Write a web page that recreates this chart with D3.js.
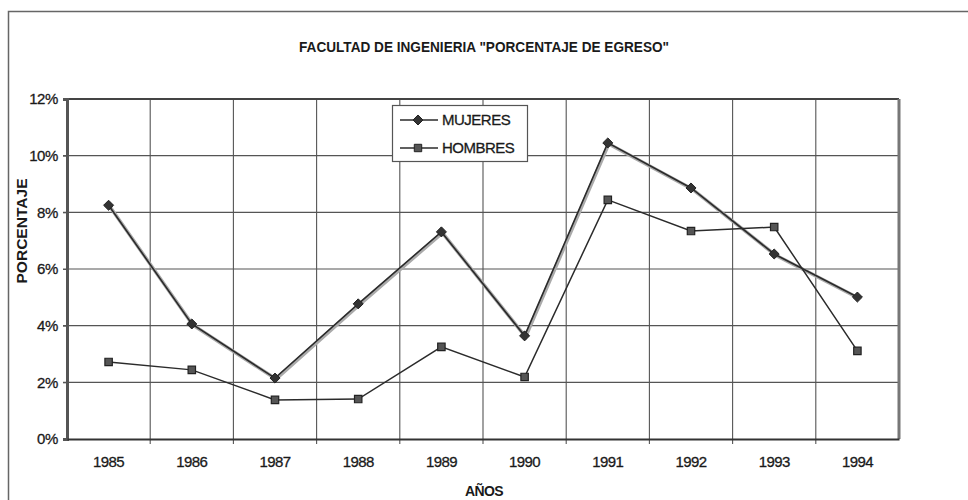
<!DOCTYPE html>
<html>
<head>
<meta charset="utf-8">
<script src="https://cdn.jsdelivr.net/npm/d3@7"></script>
<style>
  body { margin: 0; background: #fff; }
  svg { display: block; font-family: "Liberation Sans", Arial, sans-serif; }
</style>
</head>
<body>
<div id="chart"></div>
<script>
// values (percent)
const years = ["1985", "1986", "1987", "1988", "1989", "1990", "1991", "1992", "1993", "1994"];
const mujeres = [8.25, 4.06, 2.15, 4.77, 7.31, 3.64, 10.45, 8.86, 6.53, 5.01];
const hombres = [2.72, 2.44, 1.38, 1.41, 3.25, 2.19, 8.44, 7.34, 7.48, 3.11];
const yTicks = [0, 2, 4, 6, 8, 10, 12];
const seriesNames = ["MUJERES", "HOMBRES"];

const width = 968;
const height = 500;
const marginTop = 99;
const marginRight = 69;
const marginBottom = 61;
const marginLeft = 67;
const ink = "#2b2b2b";

const svg = d3.select("#chart")
    .append("svg")
    .attr("width", width)
    .attr("height", height);

// outer frame (runs off the right and bottom of the scan)
svg.append("rect")
    .attr("x", 8.5).attr("y", 11.5)
    .attr("width", 1000).attr("height", 600)
    .attr("fill", "none")
    .attr("stroke", "#666")
    .attr("stroke-width", 1.5);

const x = d3.scaleBand()
    .domain(years)
    .range([marginLeft, width - marginRight])
    .padding(0);

const y = d3.scaleLinear()
    .domain([0, 12])
    .range([height - marginBottom, marginTop]);

// horizontal grid
svg.append("g")
    .selectAll("line")
    .data(yTicks.slice(1, -1))
    .join("line")
    .attr("x1", marginLeft - 4)
    .attr("x2", width - marginRight)
    .attr("y1", d => y(d))
    .attr("y2", d => y(d))
    .attr("stroke", "#555")
    .attr("stroke-width", 1.1);

// vertical grid at category boundaries
svg.append("g")
    .selectAll("line")
    .data(years.slice(1))
    .join("line")
    .attr("x1", d => x(d))
    .attr("x2", d => x(d))
    .attr("y1", marginTop)
    .attr("y2", height - marginBottom + 5)
    .attr("stroke", "#555")
    .attr("stroke-width", 1.1);

// plot frame: top and right
svg.append("line")
    .attr("x1", marginLeft).attr("x2", width - marginRight)
    .attr("y1", marginTop).attr("y2", marginTop)
    .attr("stroke", "#444").attr("stroke-width", 2);
svg.append("line")
    .attr("x1", width - marginRight).attr("x2", width - marginRight)
    .attr("y1", marginTop).attr("y2", height - marginBottom)
    .attr("stroke", "#777").attr("stroke-width", 3);

// y axis
const yAxis = svg.append("g")
    .attr("transform", `translate(${marginLeft},0)`)
    .call(d3.axisLeft(y).tickValues(yTicks).tickFormat(d => d + "%").tickSize(4).tickPadding(5));
yAxis.select(".domain").attr("stroke", "#555").attr("stroke-width", 3);
yAxis.selectAll(".tick line").attr("stroke", "#555");
yAxis.selectAll("text")
    .attr("font-size", 15)
    .attr("fill", "#1a1a1a")
    .attr("stroke", "#1a1a1a")
    .attr("stroke-width", 0.3)
    .attr("letter-spacing", -0.4);

// x axis
const xAxis = svg.append("g")
    .attr("transform", `translate(0,${height - marginBottom})`)
    .call(d3.axisBottom(x).tickSize(0).tickPadding(17));
xAxis.select(".domain").attr("stroke", "#333").attr("stroke-width", 2);
xAxis.selectAll("text")
    .attr("font-size", 15)
    .attr("fill", "#1a1a1a")
    .attr("stroke", "#1a1a1a")
    .attr("stroke-width", 0.3)
    .attr("letter-spacing", -0.6);

// titles
svg.append("text")
    .attr("x", 484).attr("y", 52)
    .attr("text-anchor", "middle")
    .attr("font-size", 14)
    .attr("font-weight", "bold")
    .attr("fill", "#1a1a1a")
    .attr("textLength", 370)
    .attr("lengthAdjust", "spacingAndGlyphs")
    .text('FACULTAD DE INGENIERIA "PORCENTAJE DE EGRESO"');

svg.append("text")
    .attr("x", 484).attr("y", 496)
    .attr("text-anchor", "middle")
    .attr("font-size", 14)
    .attr("font-weight", "bold")
    .attr("fill", "#1a1a1a")
    .attr("letter-spacing", -0.6)
    .text("AÑOS");

svg.append("text")
    .attr("transform", "translate(27,231) rotate(-90)")
    .attr("text-anchor", "middle")
    .attr("font-size", 14)
    .attr("font-weight", "bold")
    .attr("fill", "#1a1a1a")
    .attr("textLength", 105)
    .attr("lengthAdjust", "spacingAndGlyphs")
    .text("PORCENTAJE");

const cx = d => x(d) + x.bandwidth() / 2;
const line = d3.line()
    .x((d, i) => cx(years[i]))
    .y(d => y(d));

const diamond = d3.symbol().type(d3.symbolDiamond2).size(64);
const square = d3.symbol().type(d3.symbolSquare2).size(70);

// MUJERES: scanned with a gray halo under the dark line
svg.append("path")
    .attr("d", line(mujeres))
    .attr("transform", "translate(1,1)")
    .attr("fill", "none")
    .attr("stroke", "#aaa")
    .attr("stroke-width", 3.5);
svg.append("path")
    .attr("d", line(mujeres))
    .attr("fill", "none")
    .attr("stroke", ink)
    .attr("stroke-width", 1.6);
svg.append("g")
    .selectAll("path")
    .data(mujeres)
    .join("path")
    .attr("transform", (d, i) => `translate(${cx(years[i])},${y(d)})`)
    .attr("d", diamond)
    .attr("fill", "#333")
    .attr("stroke", "#222")
    .attr("stroke-width", 1);

// HOMBRES
svg.append("path")
    .attr("d", line(hombres))
    .attr("fill", "none")
    .attr("stroke", ink)
    .attr("stroke-width", 1.5);
svg.append("g")
    .selectAll("path")
    .data(hombres)
    .join("path")
    .attr("transform", (d, i) => `translate(${cx(years[i])},${y(d)})`)
    .attr("d", square)
    .attr("fill", "#555")
    .attr("stroke", "#222")
    .attr("stroke-width", 1.2);

// legend
const legend = svg.append("g").attr("transform", "translate(392,105)");
legend.append("rect")
    .attr("x", 0.5).attr("y", 0.5)
    .attr("width", 135).attr("height", 56)
    .attr("fill", "#fff")
    .attr("stroke", "#555")
    .attr("stroke-width", 1.2);

const items = legend.selectAll("g.item")
    .data(seriesNames)
    .join("g")
    .attr("class", "item")
    .attr("transform", (d, i) => `translate(0,${15 + i * 28})`);
items.append("line")
    .attr("x1", 8).attr("x2", 46)
    .attr("stroke", ink)
    .attr("stroke-width", 1.5);
items.append("path")
    .attr("transform", "translate(26,0)")
    .attr("d", (d, i) => i === 0 ? diamond() : square())
    .attr("fill", (d, i) => i === 0 ? "#333" : "#555")
    .attr("stroke", "#222");
items.append("text")
    .attr("x", 50)
    .attr("dy", "0.36em")
    .attr("font-size", 15)
    .attr("fill", "#1a1a1a")
    .attr("stroke", "#1a1a1a")
    .attr("stroke-width", 0.3)
    .attr("letter-spacing", -0.5)
    .text(d => d);
</script>
</body>
</html>
